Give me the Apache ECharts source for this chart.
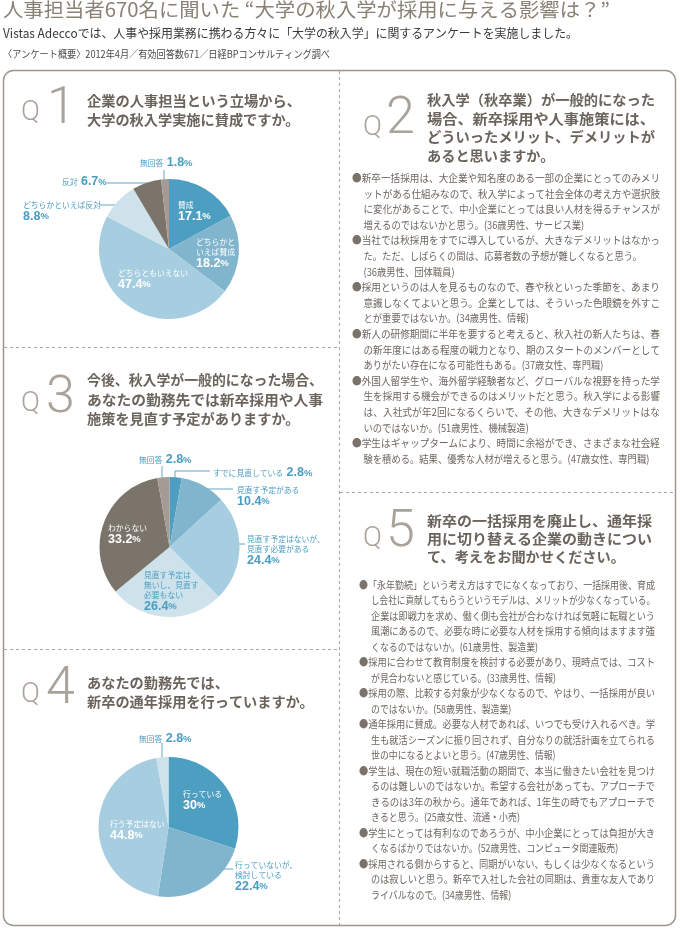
<!DOCTYPE html>
<html><head><meta charset="utf-8">
<script src="https://cdn.jsdelivr.net/npm/echarts/dist/echarts.min.js"></script>
<style>html,body{margin:0;padding:0;background:#fff}#c{width:680px;height:929px}</style>
</head><body><div id="c"></div>
<script>
// ---------------- data ----------------
const headerLines = [
  '人事担当者670名に聞いた “大学の秋入学が採用に与える影響は？”',
  'Vistas Adeccoでは、人事や採用業務に携わる方々に「大学の秋入学」に関するアンケートを実施しました。',
  '〈アンケート概要〉2012年4月／有効回答数671／日経BPコンサルティング調べ'
];

const q1Title = ['企業の人事担当という立場から、','大学の秋入学実施に賛成ですか。'];
const q2Title = ['秋入学（秋卒業）が一般的になった','場合、新卒採用や人事施策には、','どういったメリット、デメリットが','あると思いますか。'];
const q3Title = ['今後、秋入学が一般的になった場合、','あなたの勤務先では新卒採用や人事','施策を見直す予定がありますか。'];
const q4Title = ['あなたの勤務先では、','新卒の通年採用を行っていますか。'];
const q5Title = ['新卒の一括採用を廃止し、通年採','用に切り替える企業の動きについ','て、考えをお聞かせください。'];

const q1Categories = ['賛成','どちらかといえば賛成','どちらともいえない','どちらかといえば反対','反対','無回答'];
const q1Values = [17.1, 18.2, 47.4, 8.8, 6.7, 1.8];
const q1LabelText = ['賛成','どちらかと\nいえば賛成','どちらともいえない','どちらかといえば反対','反対','無回答'];

const q3Categories = ['すでに見直している','見直す予定がある','見直す予定はないが、見直す必要がある','見直す予定は無いし、見直す必要もない','わからない','無回答'];
const q3Values = [2.8, 10.4, 24.4, 26.4, 33.2, 2.8];
const q3LabelText = ['すでに見直している','見直す予定がある','見直す予定はないが、\n見直す必要がある','見直す予定は\n無いし、見直す\n必要もない','わからない','無回答'];

const q4Categories = ['行っている','行っていないが、検討している','行う予定はない','無回答'];
const q4Values = [30, 22.4, 44.8, 2.8];
const q4LabelText = ['行っている','行っていないが、\n検討している','行う予定はない','無回答'];

const q2Comments = [
  ['●新卒一括採用は、大企業や知名度のある一部の企業にとってのみメリ','ットがある仕組みなので、秋入学によって社会全体の考え方や選択肢','に変化があることで、中小企業にとっては良い人材を得るチャンスが','増えるのではないかと思う。(36歳男性、サービス業)'],
  ['●当社では秋採用をすでに導入しているが、大きなデメリットはなかっ','た。ただ、しばらくの間は、応募者数の予想が難しくなると思う。','(36歳男性、団体職員)'],
  ['●採用というのは人を見るものなので、春や秋といった季節を、あまり','意識しなくてよいと思う。企業としては、そういった色眼鏡を外すこ','とが重要ではないか。(34歳男性、情報)'],
  ['●新人の研修期間に半年を要すると考えると、秋入社の新人たちは、春','の新年度にはある程度の戦力となり、期のスタートのメンバーとして','ありがたい存在になる可能性もある。(37歳女性、専門職)'],
  ['●外国人留学生や、海外留学経験者など、グローバルな視野を持った学','生を採用する機会ができるのはメリットだと思う。秋入学による影響','は、入社式が年2回になるくらいで、その他、大きなデメリットはな','いのではないか。(51歳男性、機械製造)'],
  ['●学生はギャップタームにより、時間に余裕ができ、さまざまな社会経','験を積める。結果、優秀な人材が増えると思う。(47歳女性、専門職)']
];
const q5Comments = [
  ['●「永年勤続」という考え方はすでになくなっており、一括採用後、育成','し会社に貢献してもらうというモデルは、メリットが少なくなっている。','企業は即戦力を求め、働く側も会社が合わなければ気軽に転職という','風潮にあるので、必要な時に必要な人材を採用する傾向はますます強','くなるのではないか。(61歳男性、製造業)'],
  ['●採用に合わせて教育制度を検討する必要があり、現時点では、コスト','が見合わないと感じている。(33歳男性、情報)'],
  ['●採用の際、比較する対象が少なくなるので、やはり、一括採用が良い','のではないか。(58歳男性、製造業)'],
  ['●通年採用に賛成。必要な人材であれば、いつでも受け入れるべき。学','生も就活シーズンに振り回されず、自分なりの就活計画を立てられる','世の中になるとよいと思う。(47歳男性、情報)'],
  ['●学生は、現在の短い就職活動の期間で、本当に働きたい会社を見つけ','るのは難しいのではないか。希望する会社があっても、アプローチで','きるのは3年の秋から。通年であれば、1年生の時でもアプローチで','きると思う。(25歳女性、流通・小売)'],
  ['●学生にとっては有利なのであろうが、中小企業にとっては負担が大き','くなるばかりではないか。(52歳男性、コンピュータ関連販売)'],
  ['●採用される側からすると、同期がいない、もしくは少なくなるという','のは寂しいと思う。新卒で入社した会社の同期は、貴重な友人であり','ライバルなので。(34歳男性、情報)']
];

// ---------------- styles / layout ----------------
const CJK = '"Noto Sans CJK JP", "Noto Sans CJK SC", sans-serif';
const NUMF = 'Roboto, "Liberation Sans", sans-serif';
const VALF = '"Liberation Sans", Arial, sans-serif';
const sliceColors = ['#4d9fc1','#80b5cd','#a7cee0','#cee2eb','#7b746b','#a29c95'];
const q4Colors = ['#4d9fc1','#80b5cd','#a7cee0','#cee2eb'];
const BLUE = '#4a9dc2';
const LINEBLUE = '#62a9c8';
const TITLE = '#6b645c';
const BODY = '#6d6760';
const QCOL = '#a9a39b';

const ctx = document.createElement('canvas').getContext('2d');
function tw(t, size, weight, fam) { ctx.font = weight + ' ' + size + 'px ' + fam; return ctx.measureText(t).width; }

const g = [];
function txt(t, x, y, o) {
  const size = o.size, weight = o.weight || 'normal', fam = o.family || CJK;
  let sx = o.scale || 1;
  if (o.right) sx = (o.right - x) / tw(t, size, weight, fam);
  let text = t, rich;
  if (t.charAt(0) === '●') { text = '{b|●}' + t.slice(1); rich = { b: { fill: '#7b736a', fontSize: size, fontFamily: fam } }; }
  g.push({ type: 'text', x: x, y: y, scaleX: sx, silent: true, z: 10,
    style: { text: text, rich: rich, fontSize: size, fontWeight: weight, fontFamily: fam, fill: o.color,
      align: 'left', verticalAlign: 'middle', textAlign: 'left', textVerticalAlign: 'middle' } });
}

// frame
g.push({ type: 'rect', silent: true, shape: { x: 3.5, y: 70.5, width: 672, height: 855, r: 10 },
  style: { fill: 'none', stroke: '#9d978f', lineWidth: 1.5 } });
function dash(x1, y1, x2, y2) {
  g.push({ type: 'line', silent: true, shape: { x1, y1, x2, y2 }, style: { stroke: '#aba59d', lineWidth: 1, lineDash: [3, 3] } });
}
dash(339.5, 71, 339.5, 925);
dash(4, 347.5, 339, 347.5);
dash(4, 649.5, 339, 649.5);
dash(340, 492.5, 675, 492.5);

// header
txt(headerLines[0], 3, 10, { size: 19.5, color: '#8a8176', right: 610 });
txt(headerLines[1], 3, 33.5, { size: 12.5, color: '#3a3a3a', right: 578 });
txt(headerLines[2], 3, 54, { size: 10, color: '#4a4a4a', right: 330 });

// question headers
function qHead(num, qx, qy, nx, ny, lines, lx, ly, lh, right) {
  txt('Q', qx, qy, { size: 28, family: NUMF, weight: 300, color: QCOL });
  txt(String(num), nx, ny, { size: 52, family: NUMF, weight: 300, color: QCOL });
  lines.forEach((l, i) => {
    const nat = tw(l, 14.2, 'bold', CJK);
    const just = i < lines.length - 1 && nat > 0.9 * (right - lx);
    txt(l, lx, ly + i * lh, { size: 14.2, weight: 'bold', color: TITLE, right: just ? right : 0 });
  });
}
qHead(1, 21, 113, 47, 110, q1Title, 87, 101, 19, 301);
qHead(2, 363, 128, 386, 120, q2Title, 427, 100, 18.5, 655);
qHead(3, 21, 404, 46, 399, q3Title, 87, 380, 19.5, 323);
qHead(4, 21, 695, 46, 690, q4Title, 87, 683, 19, 323);
qHead(5, 363, 539, 386, 533, q5Title, 427, 521, 18, 652);

// comment blocks
function comments(paras, bx, cx, y0, lh, right, base) {
  let k = 0;
  paras.forEach(p => {
    p.forEach((l, i) => {
      const x = i === 0 ? bx : cx;
      const last = i === p.length - 1 || (l.slice(-1) === '。' && p[i + 1].charAt(0) === '(');
      txt(l, x, y0 + k * lh, { size: 10.5, color: BODY, scale: base, right: last ? 0 : right });
      k++;
    });
  });
}
comments(q2Comments, 352, 363.5, 178, 15.6, 660, 0.886);
comments(q5Comments, 359, 371, 585, 15.5, 655, 0.848);

// ---------------- pies ----------------
const pieLayouts = [
  { center: [169, 249], labels: [[178,200],[196,237],[118,268],[23,200],[62,175.25],[140,156.25]],
    lines: [null,null,null,[[128,205],[114,205],[100,205]],[[147,188],[147,183],[107,183]],[[164,186],[164,178],[164,170]]],
    white: [1,1,1,0,0,0], single: [0,0,0,0,1,1] },
  { center: [169.5, 547], labels: [[213,466.25],[237,485],[247,534],[144,570],[108,523],[139,453.25]],
    lines: [[[175,478],[175,471],[210,471]],[[207,496],[207,489],[233,489]],[[227,544],[236,544],[245,544]],null,null,[[162,483],[162,475],[162,466]]],
    white: [0,0,0,0,1,0], single: [1,0,0,0,0,1] },
  { center: [168.5, 827], labels: [[183,789],[235,860],[110,819],[139,732.25]],
    lines: [null,[[215,869],[224,869],[233,869]],null,[[162,760],[162,751],[162,743]]],
    white: [1,0,1,0], single: [0,0,0,1] }
];

function pie(cats, vals, labelText, colors, L) {
  return {
    type: 'pie', center: L.center, radius: 70, startAngle: 90, clockwise: true,
    avoidLabelOverlap: false, silent: true, animation: false, emphasis: { disabled: true },
    label: {
      show: true, position: 'outside', color: BLUE, overflow: 'none',
      formatter: p => {
        const i = p.dataIndex;
        const v = '{v|' + vals[i] + '}{p|%}';
        if (L.single[i]) return '{n|' + labelText[i] + '} ' + v;
        return labelText[i].split('\n').map(s => '{n|' + s + '}').join('\n') + '\n' + v;
      },
      rich: {
        n: { fontSize: 7.8, lineHeight: 10, fontFamily: CJK },
        v: { fontSize: 12.5, lineHeight: 13.5, fontWeight: 'bold', fontFamily: VALF },
        p: { fontSize: 9.5, lineHeight: 13.5, fontWeight: 'bold', fontFamily: VALF }
      }
    },
    labelLine: { show: true, smooth: false, lineStyle: { color: LINEBLUE, width: 1 } },
    labelLayout: params => {
      const i = params.dataIndex;
      const r = { x: L.labels[i][0], y: L.labels[i][1], align: 'left', verticalAlign: 'top' };
      if (L.lines[i]) r.labelLinePoints = L.lines[i].map(pt => pt.slice());
      return r;
    },
    data: cats.map((c, i) => ({
      name: c, value: vals[i],
      itemStyle: { color: colors[i] },
      label: { color: L.white[i] ? '#ffffff' : BLUE },
      labelLine: { show: !!L.lines[i] }
    }))
  };
}

const chart = echarts.init(document.getElementById('c'), null, { renderer: 'canvas', width: 680, height: 929 });
chart.setOption({
  backgroundColor: '#ffffff',
  animation: false,
  graphic: { elements: g },
  series: [
    pie(q1Categories, q1Values, q1LabelText, sliceColors, pieLayouts[0]),
    pie(q3Categories, q3Values, q3LabelText, sliceColors, pieLayouts[1]),
    pie(q4Categories, q4Values, q4LabelText, q4Colors, pieLayouts[2])
  ]
});
</script>
</body></html>
